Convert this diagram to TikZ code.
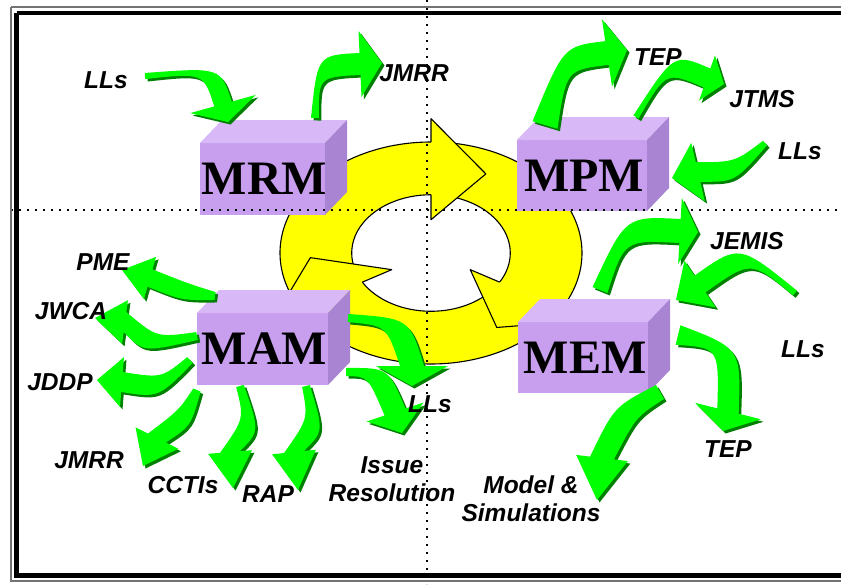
\documentclass[tikz,border=0pt]{standalone}
\usepackage{fontspec}
\setmainfont{Liberation Serif}
\setsansfont{Liberation Sans}
\usetikzlibrary{calc}

\definecolor{ringyellow}{RGB}{255,255,0}
\definecolor{arrowgreen}{RGB}{0,255,0}
\definecolor{arrowshade}{RGB}{0,128,0}
\definecolor{cubefront}{RGB}{200,158,238}
\definecolor{cubetop}{RGB}{216,184,246}
\definecolor{cubeside}{RGB}{168,132,210}

\tikzset{
  cubeface/.style={fill=cubefront, draw=none, inner sep=0pt, outer sep=0pt},
  cubelabel/.style={font=\bfseries\fontsize{48}{48}\selectfont, inner sep=0pt},
  tag/.style={font=\sffamily\bfseries\itshape\fontsize{24.5}{28}\selectfont, inner sep=0pt, align=center, text=black},
  ringline/.style={draw=black, line width=1.1pt, line join=round},
  divider/.style={line width=1.6pt, dash pattern=on 1.6pt off 6.4pt},
}

% curved block arrow: tail, bend control, head base, tip, tail/body/head half widths
\newcommand\blockarrowpath[7]{%
  ($(#1)!#5!90:(#2)$) .. controls ($(#2)!#6!90:(#3)$) .. ($(#3)!#6!90:(#4)$)
  -- ($(#3)!#7!90:(#4)$) -- (#4) -- ($(#3)!#7!-90:(#4)$) -- ($(#3)!#6!-90:(#4)$)
  .. controls ($(#2)!#6!-90:(#3)$) .. ($(#1)!#5!-90:(#2)$) -- cycle}
\newcommand\greenarrow[7]{%
  \fill[arrowshade, shift={(2.5,2.5)}] \blockarrowpath{#1}{#2}{#3}{#4}{#5}{#6}{#7};
  \fill[arrowgreen] \blockarrowpath{#1}{#2}{#3}{#4}{#5}{#6}{#7};
}

% purple cube: name, front top-left x, y, width, height, text
\newcommand\cubebox[6]{%
  \node[cubeface, minimum width=#4pt, minimum height=#5pt, anchor=north west] (#1) at (#2,#3) {};
  \fill[cubetop] (#1.north west) -- ++(22,-23) -- ++(#4,0) -- (#1.north east) -- cycle;
  \fill[cubeside] (#1.north east) -- ++(22,-23) -- ++(0,#5) -- (#1.south east) -- cycle;
  \node[cubelabel] (#1-txt) at ($(#1.center)+(2,0)$) {#6};
}

% italic label
\newcommand\tagtext[3]{%
  \node[tag] (#1) at (#2) {#3};
}

% one segment of the yellow cycle, given the angle of its arrow-head base
\newcommand\ringbody[1]{%
  \fill[ringyellow] ({#1+115}:1) arc[start angle={#1+115}, end angle=#1, radius=1]
    -- (#1:0.525) arc[start angle=#1, end angle={#1+115}, radius=0.525] -- cycle;
}
\newcommand\ringedges[1]{%
  \draw[ringline] ({#1+115}:1) arc[start angle={#1+115}, end angle=#1, radius=1];
  \draw[ringline] (#1:0.525) arc[start angle=#1, end angle={#1+115}, radius=0.525];
}
\newcommand\ringhead[1]{%
  \fill[ringyellow] (#1:1.21) -- ({#1-27}:0.8) -- (#1:0.30) -- cycle;
  \draw[ringline] (#1:1) -- (#1:1.21) -- ({#1-27}:0.8) -- (#1:0.30) -- (#1:0.525);
}

\begin{document}
\begin{tikzpicture}[x=1pt, y=-1pt]
  \useasboundingbox (0,0) rectangle (841,584);
  \fill[white] (0,0) rectangle (841,584);
  \clip (0,0) rectangle (841,584);

  % central cycle of three curved arrows
  \begin{scope}[shift={(431,253)}, x=151pt, y=111pt]
    \ringbody{90}\ringbody{-30}\ringbody{-150}
    \ringedges{90}\ringedges{-30}\ringedges{-150}
    \ringhead{90}\ringhead{-30}\ringhead{-150}
  \end{scope}

  % the four modules
  \cubebox{mrm}{200}{143}{125}{72}{MRM}
  \cubebox{mpm}{517}{140}{130}{71}{MPM}
  \cubebox{mam}{197}{313}{131}{72}{MAM}
  \cubebox{mem}{518}{322}{130}{71}{MEM}

  % quadrant dividers
  \draw[divider] (427,0) -- (427,584);
  \draw[divider] (11,210) -- (841,210);

  % green flow arrows around MRM
  \greenarrow{145,76}{212,70}{223,104}{228,122}{3pt}{9pt}{34pt}
  \greenarrow{315,118}{318,66}{360,64}{382,63}{4pt}{11pt}{33pt}
  % around MPM
  \greenarrow{545,125}{565,58}{607,53}{627,50}{13pt}{12pt}{34pt}
  \greenarrow{636,117}{670,62}{707,78}{724,84}{3pt}{10pt}{24pt}
  \greenarrow{765,143}{735,172}{698,172}{672,178}{3pt}{10pt}{30pt}
  % around MEM
  \greenarrow{600,290}{625,228}{680,231}{698,232}{8pt}{12pt}{33pt}
  \greenarrow{795,293}{745,252}{700,284}{676,300}{3pt}{10pt}{28pt}
  \greenarrow{678,335}{730,348}{728,411}{723,431}{10pt}{11pt}{34pt}
  \greenarrow{660,392}{625,412}{602,458}{597,500}{8pt}{12pt}{26pt}
  % around MAM
  \greenarrow{215,296}{185,292}{150,278}{122,270}{4pt}{9pt}{22pt}
  \greenarrow{197,336}{150,345}{125,322}{95,318}{4pt}{10pt}{22pt}
  \greenarrow{190,360}{160,388}{122,382}{97,380}{4pt}{10pt}{25pt}
  \greenarrow{197,390}{185,418}{157,438}{143,466}{4pt}{10pt}{24pt}
  \greenarrow{240,386}{252,425}{230,452}{233,488}{4pt}{10pt}{22pt}
  \greenarrow{306,386}{316,425}{294,452}{298,490}{4pt}{10pt}{22pt}
  \greenarrow{348,318}{398,322}{412,366}{412,386}{4pt}{12pt}{36pt}
  \greenarrow{346,372}{378,372}{395,412}{402,433}{4pt}{11pt}{30pt}

  % labels
  \tagtext{llsa}{106,80}{LLs}
  \tagtext{jmrra}{414,73}{JMRR}
  \tagtext{tepa}{658,57}{TEP}
  \tagtext{jtms}{762,99}{JTMS}
  \tagtext{llsb}{800,151}{LLs}
  \tagtext{jemis}{747,241}{JEMIS}
  \tagtext{llsc}{803,349}{LLs}
  \tagtext{tepb}{728,449}{TEP}
  \tagtext{model}{531,499}{Model \&\\Simulations}
  \tagtext{issue}{392,479}{Issue\\Resolution}
  \tagtext{llsd}{430,404}{LLs}
  \tagtext{rap}{268,494}{RAP}
  \tagtext{cctis}{183,485}{CCTIs}
  \tagtext{jmrrb}{89,460}{JMRR}
  \tagtext{jddp}{60,382}{JDDP}
  \tagtext{jwca}{71,311}{JWCA}
  \tagtext{pme}{103,262}{PME}

  % double frame, open to the right
  \draw[black!55, line width=1.2pt] (11,7) -- (860,7) (11,7) -- (11,581) -- (860,581);
  \draw[black, line width=4.5pt] (16.5,13) -- (860,13) (16.5,13) -- (16.5,575.5) -- (860,575.5);
\end{tikzpicture}
\end{document}
